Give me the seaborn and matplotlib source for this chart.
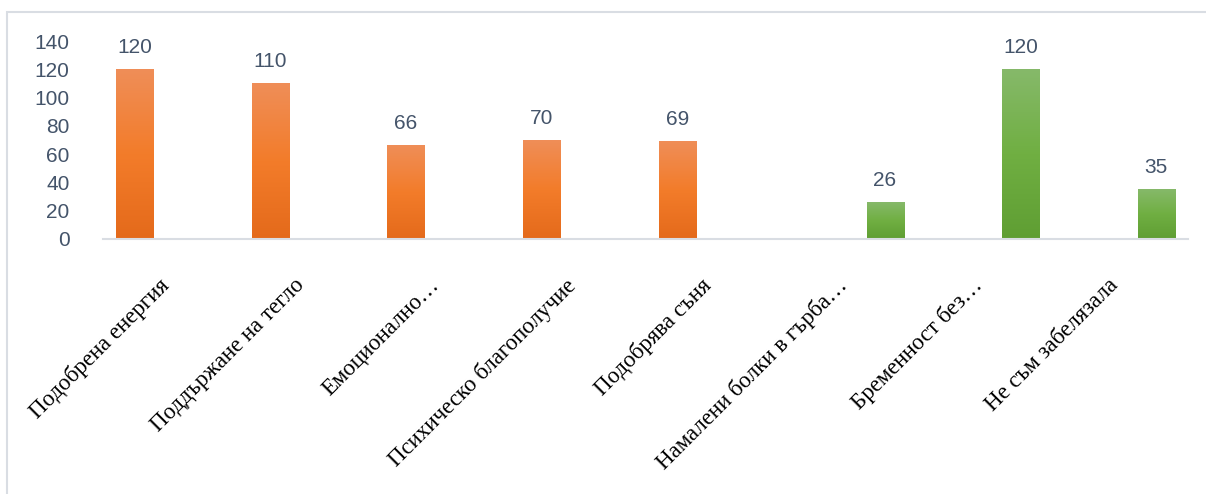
import numpy as np
import pandas as pd
import matplotlib
matplotlib.use("Agg")
import matplotlib.pyplot as plt
import matplotlib.patches as mpatches
import matplotlib.transforms as mtransforms
from matplotlib.colors import LinearSegmentedColormap
import seaborn as sns

categories = ["Подобрена енергия", "Поддържане на тегло", "Емоционално…",
              "Психическо благополучие", "Подобрява съня", "Намалени болки в гърба…",
              "Бременност без…", "Не съм забелязала"]
values = [120, 110, 66, 70, 69, 26, 120, 35]
series = ["Ползи", "Ползи", "Ползи", "Ползи", "Ползи", "Други", "Други", "Други"]
series_order = ["Ползи", "Други"]
yticks = [0, 20, 40, 60, 80, 100, 120, 140]

df = pd.DataFrame({"category": categories, "value": values, "series": series})

sns.set_theme(style="white")
plt.rcParams["font.family"] = ["Liberation Sans", "DejaVu Sans"]

fig = plt.figure(figsize=(12.06, 4.94), dpi=100)
ax = fig.add_axes([103 / 1206, (494 - 239) / 494, (1188 - 103) / 1206, (239 - 41) / 494])

palette = {"Ползи": "#ED7D31", "Други": "#70AD47"}
sns.barplot(data=df, x="category", y="value", hue="series", hue_order=series_order,
            order=categories, palette=palette, width=1.064, gap=0.487, dodge=True,
            legend=False, ax=ax, saturation=1)

grads = {
    "Ползи": LinearSegmentedColormap.from_list("o", ["#E46A1B", "#F37C2A", "#EF8E58"]),
    "Други": LinearSegmentedColormap.from_list("g", ["#5F9E33", "#70AF42", "#86B96A"]),
}
for cont, name in zip(ax.containers, series_order):
    for p in cont.patches:
        x, y = p.get_x(), p.get_y()
        w, h = p.get_width(), p.get_height()
        if not np.isfinite(h) or h <= 0:
            continue
        grad = np.linspace(0, 1, 256).reshape(-1, 1)
        ax.imshow(grad, extent=[x, x + w, y, y + h], origin="lower", aspect="auto",
                  cmap=grads[name], zorder=p.get_zorder() + 0.1)
    ax.bar_label(cont, labels=[f"{v:g}" for v in cont.datavalues], padding=9,
                 fontsize=15, color="#44546A")

ax.set_xlim(-0.5, 7.5)
ax.set_ylim(0, 140)
ax.set_yticks(yticks)
ax.set_yticklabels([str(t) for t in yticks], fontsize=15, color="#44546A")
ax.tick_params(axis="y", length=0, pad=24)
ax.tick_params(axis="x", length=0, pad=22)
ax.set_xticks(range(len(categories)))
ax.set_xticklabels(categories, rotation=45, ha="right", va="top", rotation_mode="anchor",
                   fontsize=16.5, color="black", family=["Liberation Serif", "DejaVu Serif"])
shift = mtransforms.ScaledTranslation(-0.13, -0.05, fig.dpi_scale_trans)
for lab in ax.get_xticklabels():
    lab.set_transform(lab.get_transform() + shift)
ax.set_xlabel("")
ax.set_ylabel("")
for s in ["top", "right", "left"]:
    ax.spines[s].set_visible(False)
ax.spines["bottom"].set_color("#D9DDE3")
ax.spines["bottom"].set_linewidth(1.5)
ax.set_facecolor("white")

border = mpatches.Rectangle((7 / 1206, -0.1), 1.2, (494 - 12) / 494 + 0.1,
                            transform=fig.transFigure, fill=False,
                            edgecolor="#D9DDE3", linewidth=1.5, clip_on=False)
fig.patches.append(border)

fig.savefig("out.png", dpi=100, facecolor="white")
